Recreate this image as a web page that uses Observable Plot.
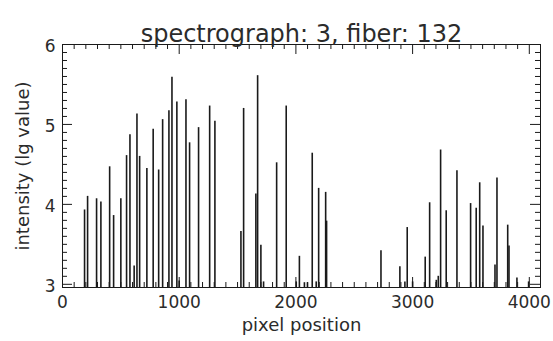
<!DOCTYPE html>
<html>
<head>
<meta charset="utf-8">
<script src="https://cdn.jsdelivr.net/npm/d3@7"></script>
<script src="https://cdn.jsdelivr.net/npm/@observablehq/plot@0.6"></script>
<style>
  html, body { margin: 0; padding: 0; background: #fff; }
  #chart svg { display: block; }
</style>
</head>
<body>
<div id="chart"></div>
<script>
// Emission-line positions (pixel) and peak intensities (log10) for one fiber
const linePixel = [
  189, 215, 292, 329, 404, 438, 500, 549, 578, 614,
  638, 661, 723, 777, 824, 858, 912, 938, 980, 1000,
  1058, 1089, 1166, 1261, 1306, 1529, 1552, 1657, 1672, 1700,
  1723, 1835, 1917, 2003, 2030, 2073, 2099, 2140, 2174, 2195,
  2255, 2263, 2729, 2891, 2934, 2954, 3000, 3108, 3146, 3203,
  3220, 3240, 3288, 3380, 3497, 3545, 3575, 3603, 3706, 3723,
  3815, 3826, 3894, 3994
];
const lineIntensity = [
  3.93, 4.10, 4.07, 4.03, 4.47, 3.86, 4.07, 4.61, 4.87, 3.23,
  5.13, 4.60, 4.45, 4.94, 4.43, 5.06, 5.17, 5.59, 5.28, 3.04,
  5.31, 4.77, 4.96, 5.23, 5.04, 3.66, 5.20, 4.13, 5.61, 3.49,
  3.03, 4.52, 5.23, 3.03, 3.35, 3.02, 3.02, 4.64, 3.03, 4.20,
  4.15, 3.79, 3.42, 3.22, 3.03, 3.71, 3.03, 3.34, 4.02, 3.05,
  3.10, 4.68, 3.92, 4.42, 4.01, 3.95, 4.27, 3.73, 3.24, 4.33,
  3.74, 3.48, 3.08, 3.03
];

// Axis ranges and labelled ticks
const xRange = [0, 4096];
const yRange = [2.96, 6];
const xTickValues = [0, 1000, 2000, 3000, 4000];
const yTickValues = [3, 4, 5, 6];
const xMinorStep = 100;
const yMinorStep = 0.1;

const titleText = "spectrograph: 3, fiber: 132";
const xLabel = "pixel position";
const yLabel = "intensity (lg value)";

const lines = linePixel.map((p, i) => ({pixel: p, value: lineIntensity[i]}));

const W = 553, H = 341;
const mL = 62, mR = 13, mT = 44, mB = 54;
const innerW = W - mL - mR, innerH = H - mT - mB;
const majorLen = 10, minorLen = 5;

const xMinor = d3.range(xRange[0], xRange[1], xMinorStep).filter(v => !xTickValues.includes(v));
const yMinor = d3.range(Math.ceil(yRange[0] / yMinorStep), Math.floor(yRange[1] / yMinorStep) + 1)
  .map(k => +(k * yMinorStep).toFixed(1))
  .filter(v => !yTickValues.includes(v));

const ink = "#1a1a1a";
const textInk = "#2b2b2b";
const font = "DejaVu Sans, sans-serif";

const chart = Plot.plot({
  width: W,
  height: H,
  marginLeft: mL,
  marginRight: mR,
  marginTop: mT,
  marginBottom: mB,
  style: {fontFamily: font, color: ink, background: "#fff"},
  x: {domain: xRange, axis: null},
  y: {domain: yRange, axis: null},
  marks: [
    // spectral lines rising from the floor of the plot
    Plot.ruleX(lines, {x: "pixel", y1: yRange[0], y2: "value", stroke: ink, strokeWidth: 1.6}),
    Plot.frame({stroke: ink, strokeWidth: 1}),
    // inward ticks on all four sides
    Plot.tickX(xMinor, {x: d => d, insetTop: innerH - minorLen, stroke: ink}),
    Plot.tickX(xMinor, {x: d => d, insetBottom: innerH - minorLen, stroke: ink}),
    Plot.tickX(xTickValues, {x: d => d, insetTop: innerH - majorLen, stroke: ink}),
    Plot.tickX(xTickValues, {x: d => d, insetBottom: innerH - majorLen, stroke: ink}),
    Plot.tickY(yMinor, {y: d => d, insetRight: innerW - minorLen, stroke: ink}),
    Plot.tickY(yMinor, {y: d => d, insetLeft: innerW - minorLen, stroke: ink}),
    Plot.tickY(yTickValues, {y: d => d, insetRight: innerW - majorLen, stroke: ink}),
    Plot.tickY(yTickValues, {y: d => d, insetLeft: innerW - majorLen, stroke: ink}),
    // tick labels
    Plot.text(xTickValues, {x: d => d, text: d => String(d), frameAnchor: "bottom", dy: 20, fontSize: 17, fill: textInk}),
    Plot.text(yTickValues, {y: d => d, text: d => String(d), frameAnchor: "left", dx: -7, dy: 2, textAnchor: "end", fontSize: 17, fill: textInk}),
    // titles
    Plot.text([titleText], {text: d => d, frameAnchor: "top", dy: -20, fontSize: 24, fill: textInk}),
    Plot.text([xLabel], {text: d => d, frameAnchor: "bottom", dy: 43, fontSize: 18, fill: textInk}),
    Plot.text([yLabel], {text: d => d, frameAnchor: "left", dx: -39, rotate: -90, textAnchor: "middle", fontSize: 18, fill: textInk})
  ]
});

document.getElementById("chart").appendChild(chart);
</script>
</body>
</html>
